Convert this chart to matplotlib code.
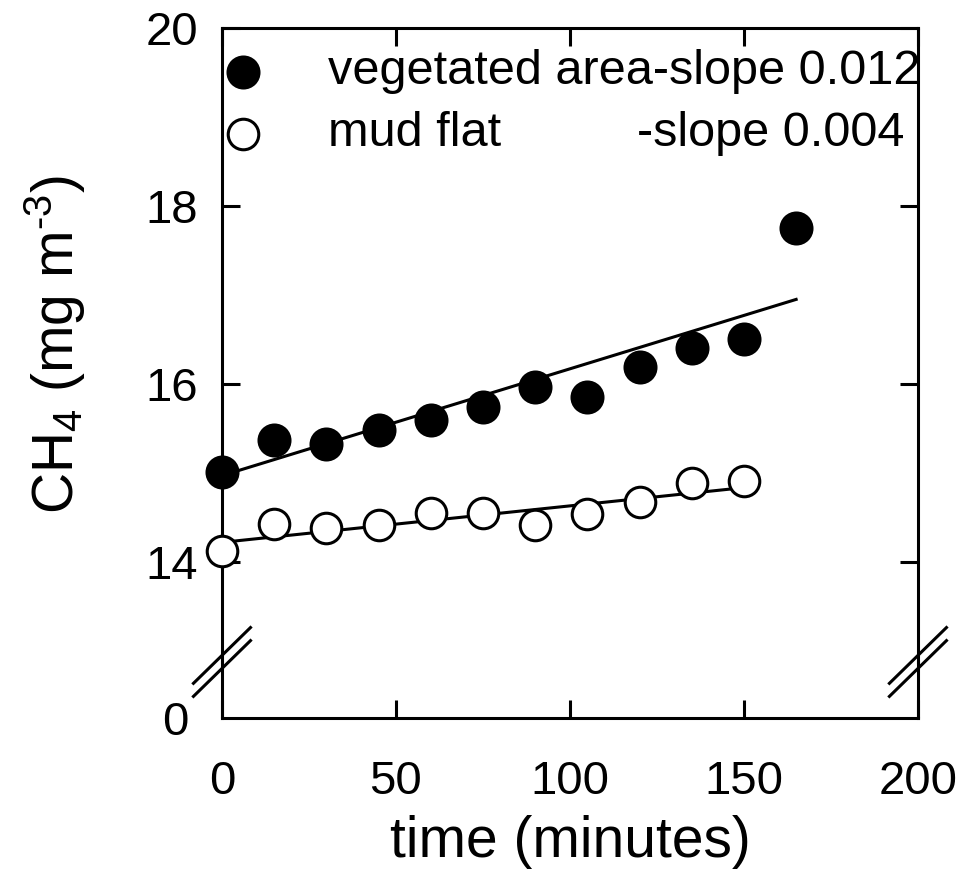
import numpy as np
import matplotlib
matplotlib.use('Agg')
import matplotlib.pyplot as plt

plt.rcParams['font.family'] = ['Liberation Sans', 'DejaVu Sans']
plt.rcParams['mathtext.fontset'] = 'custom'
plt.rcParams['mathtext.rm'] = 'Liberation Sans'
plt.rcParams['mathtext.it'] = 'Liberation Sans'

# data
time_veg = [0, 15, 30, 45, 60, 75, 90, 105, 120, 135, 150, 165]
ch4_veg = [15.01, 15.37, 15.33, 15.48, 15.59, 15.74, 15.97, 15.85, 16.19, 16.40, 16.50, 17.75]
time_mud = [0, 15, 30, 45, 60, 75, 90, 105, 120, 135, 150]
ch4_mud = [14.12, 14.43, 14.38, 14.42, 14.55, 14.55, 14.41, 14.54, 14.67, 14.89, 14.91]

# fitted lines (intercept, slope)
fit_veg = (14.97, 0.012)
fit_mud = (14.22, 0.0041)

lw = 2.2
fig = plt.figure(figsize=(9.63, 8.74), dpi=100)
ax = fig.add_axes([0.2305, 0.2426, 0.7227, 0.7254])
ax_low = fig.add_axes([0.2305, 0.1785, 0.7227, 0.0641], sharex=ax)
ax_low.patch.set_visible(False)

# regression lines
xv = np.array([min(time_veg), max(time_veg)])
ax.plot(xv, fit_veg[0] + fit_veg[1] * xv, color='black', lw=lw, zorder=2)
xm = np.array([min(time_mud), max(time_mud)])
ax.plot(xm, fit_mud[0] + fit_mud[1] * xm, color='black', lw=lw, zorder=2)

# points
ax.plot(time_veg, ch4_veg, 'o', ms=23, mfc='black', mec='black', mew=1.5,
        clip_on=False, zorder=3)
ax.plot(time_mud, ch4_mud, 'o', ms=22, mfc='white', mec='black', mew=2.2,
        clip_on=False, zorder=3)

ax.set_xlim(0, 200)
ax.set_ylim(12.876, 20)
ax.set_yticks([14, 16, 18, 20])
ax.set_xticks([0, 50, 100, 150, 200])
ax_low.set_ylim(0, 1)
ax_low.set_yticks([0])

for a in (ax, ax_low):
    for s in a.spines.values():
        s.set_linewidth(lw)
ax.spines['bottom'].set_visible(False)
ax_low.spines['top'].set_visible(False)

ax.tick_params(axis='both', direction='in', length=13, width=lw, labelsize=34,
               top=True, right=True, bottom=False, labelbottom=False, pad=17)
ax_low.tick_params(axis='x', direction='in', length=13, width=lw, labelsize=34,
                   top=False, pad=30)
ax_low.tick_params(axis='y', length=0, labelsize=34, pad=24)

ax_low.set_xlabel('time (minutes)', fontsize=41)
ax_low.xaxis.set_label_coords(0.5, -2.22)
ax_low.xaxis.label.set_va('center')

ax.set_ylabel('CH$_4$ (mg m$^{\\text{-}3}$)', fontsize=41)
ax.yaxis.set_label_coords(-0.24, 0.5)
ax.yaxis.label.set_va('center')

# axis break marks
dx, dy, sep = 0.041, 0.044, 0.0103
for xc in (0, 1):
    for yc in (sep, -sep):
        ax.plot([xc - dx, xc + dx], [yc - dy, yc + dy], color='black', lw=lw,
                transform=ax.transAxes, clip_on=False, zorder=5)

# legend
ax.plot([0.030], [0.9306], 'o', ms=23, mfc='black', mec='black', mew=1.5,
        transform=ax.transAxes, clip_on=False)
ax.plot([0.030], [0.8328], 'o', ms=22, mfc='white', mec='black', mew=2.2,
        transform=ax.transAxes, clip_on=False)
ax.text(0.152, 0.9306, 'vegetated area-slope 0.012', fontsize=35,
        va='center', ha='left', transform=ax.transAxes)
ax.text(0.152, 0.8328, 'mud flat', fontsize=35,
        va='center', ha='left', transform=ax.transAxes)
ax.text(0.596, 0.8328, '-slope 0.004', fontsize=35,
        va='center', ha='left', transform=ax.transAxes)

fig.savefig('out.png', dpi=100)
